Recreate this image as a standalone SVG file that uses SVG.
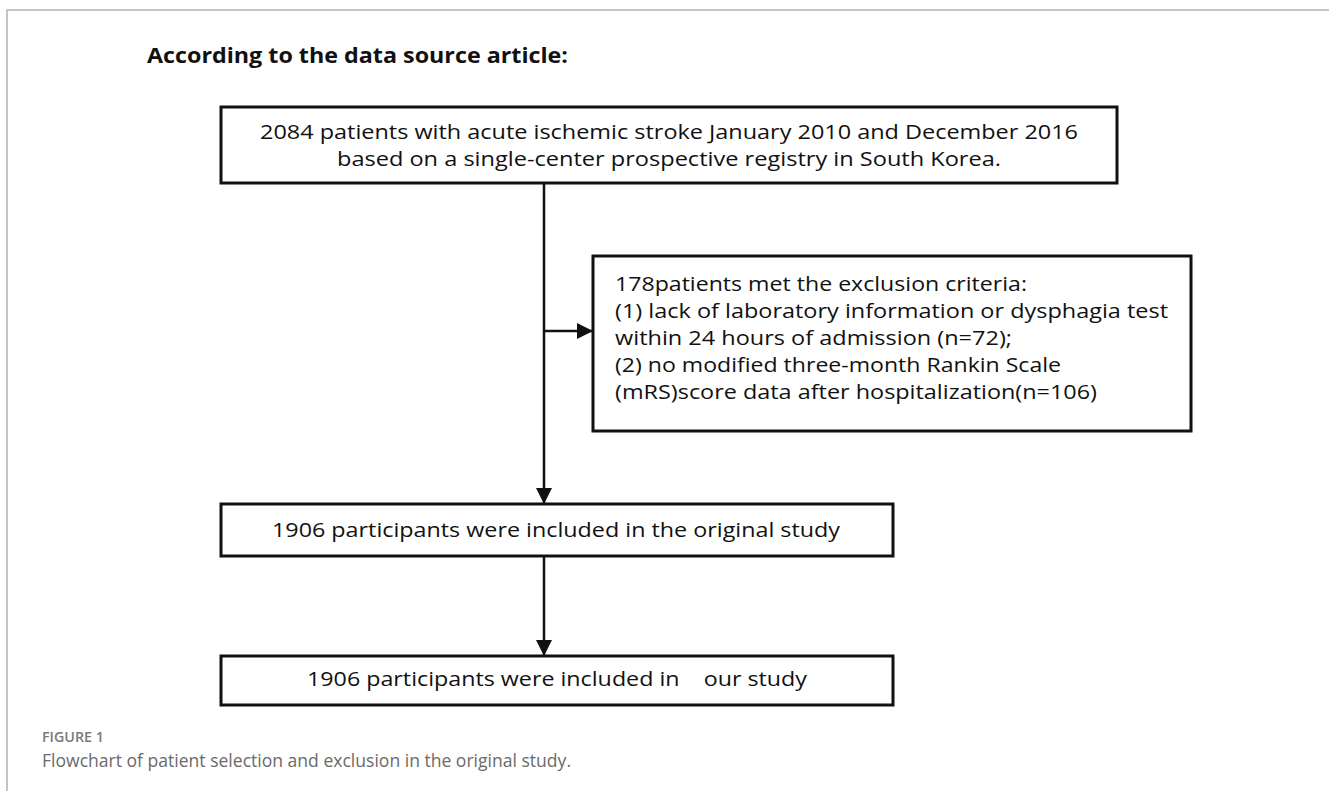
<svg xmlns="http://www.w3.org/2000/svg" width="1329" height="791" viewBox="0 0 1329 791">
<defs>
<style>
.box{fill:#fff;stroke:#111;stroke-width:3}
.t{font-family:"Open Sans","Noto Sans","Liberation Sans",sans-serif;font-size:20px;fill:#111}
.c{text-anchor:middle}
.conn{stroke:#111;stroke-width:2.5;fill:none}
.frame{stroke:#b3b3b3;stroke-width:1.5;fill:none}
</style>
<marker id="ah" viewBox="0 0 16 16" refX="16" refY="8" markerWidth="16" markerHeight="16" markerUnits="userSpaceOnUse" orient="auto">
<path d="M0,0 L16,8 L0,16 Z" fill="#111"/>
</marker>
</defs>
<rect width="1329" height="791" fill="#fff"/>
<path class="frame" d="M7,791 V10 H1329"/>
<text x="147" y="63" font-family="Open Sans,Noto Sans,Liberation Sans,sans-serif" font-weight="bold" font-size="22" fill="#111" textLength="421" lengthAdjust="spacingAndGlyphs">According to the data source article:</text>
<g id="connectors">
<line class="conn" x1="544" y1="183" x2="544" y2="504" marker-end="url(#ah)"/>
<line class="conn" x1="544" y1="331" x2="593" y2="331" marker-end="url(#ah)"/>
<line class="conn" x1="544" y1="556" x2="544" y2="656" marker-end="url(#ah)"/>
</g>
<g id="n1">
<rect class="box" x="221" y="107" width="896" height="76"/>
<text class="t c" x="669" y="139" textLength="818" lengthAdjust="spacingAndGlyphs">2084 patients with acute ischemic stroke January 2010 and December 2016</text>
<text class="t c" x="669" y="166" textLength="664" lengthAdjust="spacingAndGlyphs">based on a single-center prospective registry in South Korea.</text>
</g>
<g id="n2">
<rect class="box" x="593" y="256" width="598" height="175"/>
<text class="t" x="615" y="291" textLength="412" lengthAdjust="spacingAndGlyphs">178patients met the exclusion criteria:</text>
<text class="t" x="615" y="318" textLength="553" lengthAdjust="spacingAndGlyphs">(1) lack of laboratory information or dysphagia test</text>
<text class="t" x="615" y="345" textLength="397" lengthAdjust="spacingAndGlyphs">within 24 hours of admission (n=72);</text>
<text class="t" x="615" y="372" textLength="446" lengthAdjust="spacingAndGlyphs">(2) no modified three-month Rankin Scale</text>
<text class="t" x="615" y="399" textLength="482" lengthAdjust="spacingAndGlyphs">(mRS)score data after hospitalization(n=106)</text>
</g>
<g id="n3">
<rect class="box" x="221" y="504" width="672" height="52"/>
<text class="t c" x="556" y="537" textLength="568" lengthAdjust="spacingAndGlyphs">1906 participants were included in the original study</text>
</g>
<g id="n4">
<rect class="box" x="221" y="656" width="672" height="49"/>
<text class="t c" x="557" y="686" textLength="500" lengthAdjust="spacingAndGlyphs" xml:space="preserve">1906 participants were included in    our study</text>
</g>
<text x="42" y="742" font-family="Open Sans,Noto Sans,Liberation Sans,sans-serif" font-weight="600" font-size="14" fill="#7a7a7a" textLength="62" lengthAdjust="spacingAndGlyphs">FIGURE 1</text>
<text x="42" y="767" font-family="Open Sans,Noto Sans,Liberation Sans,sans-serif" font-size="19" fill="#6a6a6a" textLength="529" lengthAdjust="spacingAndGlyphs">Flowchart of patient selection and exclusion in the original study.</text>
</svg>
